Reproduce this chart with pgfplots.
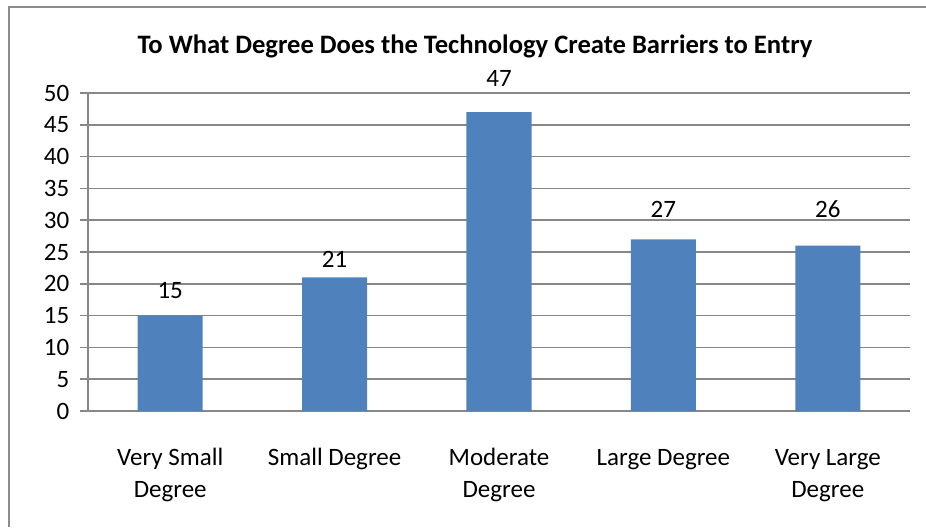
\documentclass[border=0pt]{standalone}
\usepackage{fontspec}
\setmainfont{Carlito}
\usepackage{pgfplots}
\pgfplotsset{compat=1.18}
\definecolor{barblue}{HTML}{4F81BD}
\definecolor{gridgray}{HTML}{878787}
\definecolor{framegray}{HTML}{8C8C8C}
\begin{document}
\fontsize{12.5}{15}\selectfont
\begin{tikzpicture}
\useasboundingbox (0,0) rectangle (463pt,263.5pt);
\draw[framegray, line width=1pt] (4.4pt,0pt) -- (4.4pt,260.4pt);
\draw[framegray, line width=1pt] (3.9pt,259.9pt) -- (463pt,259.9pt);
\node[font=\fontsize{13.3}{16}\selectfont\bfseries] at (237.5pt,240.5pt) {To What Degree Does the Technology\ Create Barriers to Entry};
\begin{axis}[
  at={(44pt,58pt)}, anchor=south west,
  scale only axis,
  width=411pt, height=159pt,
  ymin=0, ymax=50,
  ytick={0,5,...,50},
  xmin=-0.5, xmax=4.5,
  xtick={0,1,2,3,4},
  xticklabels={{\strut Very Small\\Degree},{\strut Small Degree},{\strut Moderate\\Degree},{\strut Large Degree},{\strut Very Large\\Degree}},
  xticklabel style={align=center, yshift=-8pt, font=\fontsize{12.5}{15.7}\selectfont},
  major x tick style={draw=none},
  extra x ticks={-0.5,0.5,1.5,2.5,3.5,4.5},
  extra x tick labels={},
  extra x tick style={major tick length=3.5pt, tick align=outside, grid=none, tick style={draw=gridgray, line width=0.8pt}},
  axis x line*=bottom,
  axis y line*=left,
  axis line style={draw=gridgray, line width=0.8pt},
  ymajorgrids,
  major grid style={draw=gridgray, line width=0.8pt},
  y tick style={draw=gridgray, line width=0.8pt},
  major tick length=4pt,
  tick align=outside,
  yticklabel style={font=\fontsize{12.5}{15}\selectfont, xshift=-1pt},
  /pgf/number format/assume math mode=true,
  clip=false,
]
\addplot[ybar, bar width=32.5pt, fill=barblue, draw=none] coordinates {(0,15) (1,21) (2,47) (3,27) (4,26)};
% data labels, placed where the reference shows them
\addplot[only marks, mark=none, point meta=explicit symbolic,
  nodes near coords,
  every node near coord/.append style={font=\fontsize{12.5}{15}\selectfont, anchor=center}]
  coordinates {(0,18.95)[15] (1,23.82)[21] (2,52.36)[47] (3,31.76)[27] (4,31.76)[26]};
\end{axis}
\end{tikzpicture}
\end{document}
